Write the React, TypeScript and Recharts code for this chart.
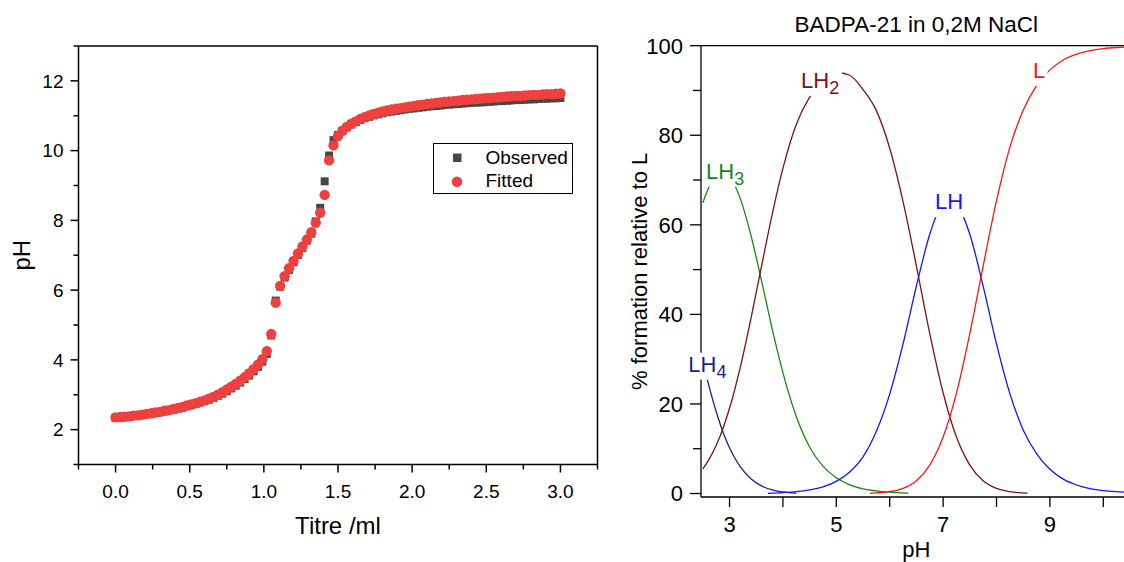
import React from "react";
import {
  Label,
  Line,
  LineChart,
  ReferenceDot,
  ReferenceLine,
  Scatter,
  ScatterChart,
  XAxis,
  YAxis,
} from "recharts";

const FONT = "'Liberation Sans', Arial, Helvetica, sans-serif";

// ---- left panel: titration curve (titre /ml vs pH)
const titre = [
  0, 0.03, 0.06, 0.09, 0.12, 0.15, 0.18, 0.21, 0.24, 0.27, 0.3, 0.33, 0.36, 0.39, 0.42, 0.45, 0.48,
  0.51, 0.54, 0.57, 0.6, 0.63, 0.66, 0.69, 0.72, 0.75, 0.78, 0.81, 0.84, 0.87, 0.9, 0.93, 0.96, 0.99,
  1.02, 1.05, 1.08, 1.11, 1.14, 1.17, 1.2, 1.23, 1.26, 1.29, 1.32, 1.35, 1.38, 1.41, 1.44, 1.47, 1.5,
  1.53, 1.56, 1.59, 1.62, 1.65, 1.68, 1.71, 1.74, 1.77, 1.8, 1.83, 1.86, 1.89, 1.92, 1.95, 1.98, 2.01,
  2.04, 2.07, 2.1, 2.13, 2.16, 2.19, 2.22, 2.25, 2.28, 2.31, 2.34, 2.37, 2.4, 2.43, 2.46, 2.49, 2.52,
  2.55, 2.58, 2.61, 2.64, 2.67, 2.7, 2.73, 2.76, 2.79, 2.82, 2.85, 2.88, 2.91, 2.94, 2.97, 3.0,
];

const phObserved = [
  2.34, 2.35, 2.36, 2.37, 2.39, 2.4, 2.42, 2.44, 2.46, 2.48, 2.5, 2.52, 2.55, 2.57, 2.6, 2.63, 2.67,
  2.7, 2.74, 2.78, 2.82, 2.86, 2.91, 2.97, 3.03, 3.1, 3.18, 3.26, 3.35, 3.45, 3.55, 3.67, 3.8, 3.95,
  4.17, 4.7, 5.7, 6.1, 6.36, 6.58, 6.8, 7.01, 7.21, 7.42, 7.62, 7.97, 8.36, 9.12, 9.86, 10.3, 10.45,
  10.57, 10.67, 10.75, 10.82, 10.88, 10.93, 10.97, 11.01, 11.04, 11.07, 11.1, 11.12, 11.14, 11.16,
  11.18, 11.2, 11.21, 11.23, 11.24, 11.26, 11.27, 11.28, 11.29, 11.31, 11.32, 11.33, 11.34, 11.35,
  11.36, 11.37, 11.38, 11.38, 11.39, 11.4, 11.41, 11.42, 11.42, 11.43, 11.44, 11.45, 11.45, 11.46,
  11.47, 11.47, 11.48, 11.49, 11.49, 11.5, 11.5, 11.51,
];

const phFitted = [
  2.35, 2.36, 2.37, 2.38, 2.4, 2.41, 2.43, 2.45, 2.47, 2.49, 2.51, 2.54, 2.56, 2.59, 2.62, 2.65, 2.69,
  2.72, 2.76, 2.8, 2.84, 2.89, 2.94, 3.0, 3.07, 3.15, 3.23, 3.31, 3.4, 3.5, 3.61, 3.73, 3.86, 4.02,
  4.25, 4.74, 5.64, 6.12, 6.4, 6.63, 6.84, 7.05, 7.25, 7.45, 7.66, 7.93, 8.22, 8.73, 9.72, 10.15,
  10.42, 10.57, 10.68, 10.77, 10.84, 10.91, 10.96, 11.01, 11.05, 11.09, 11.12, 11.15, 11.18, 11.2,
  11.22, 11.24, 11.26, 11.28, 11.3, 11.32, 11.34, 11.35, 11.37, 11.38, 11.4, 11.41, 11.42, 11.43,
  11.45, 11.46, 11.47, 11.48, 11.49, 11.5, 11.51, 11.52, 11.53, 11.54, 11.55, 11.56, 11.57, 11.57,
  11.58, 11.59, 11.6, 11.6, 11.61, 11.62, 11.62, 11.63, 11.64,
];

const titreTicks = [-0.25, 0, 0.25, 0.5, 0.75, 1, 1.25, 1.5, 1.75, 2, 2.25, 2.5, 2.75, 3, 3.25];
const phTicks = [1, 2, 3, 4, 5, 6, 7, 8, 9, 10, 11, 12, 13];

// ---- right panel: species distribution, BADPA-21 in 0,2M NaCl
const lh4Ph = [2.47, 2.6, 2.75, 2.9, 3.05, 3.2, 3.4, 3.6, 3.8, 4.0, 4.25];
const lh4Pct = [31.0, 24.7, 18.3, 13.0, 9.0, 6.0, 3.3, 1.7, 0.8, 0.35, 0.05];

const lh3Ph = [2.5, 2.6, 2.75, 2.9, 3.05, 3.2, 3.4, 3.6, 3.8, 4.0, 4.25, 4.5, 4.75, 5.0, 5.25, 5.5, 5.75, 6.0, 6.35];
const lh3Pct = [64.9, 68.0, 71.0, 71.6, 69.9, 65.9, 57.7, 47.5, 36.7, 27.0, 17.2, 10.4, 6.1, 3.5, 1.95, 1.06, 0.57, 0.29, 0.1];

const lh2Ph = [
  2.5, 2.6, 2.75, 2.9, 3.05, 3.2, 3.4, 3.6, 3.8, 4.0, 4.25, 4.5, 4.75, 4.9, 5.05, 5.25, 5.5, 5.75,
  6.0, 6.25, 6.5, 6.75, 7.0, 7.25, 7.5, 7.75, 8.0, 8.25, 8.58,
];
const lh2Pct = [
  5.5, 7.3, 10.7, 15.3, 21.1, 28.1, 39.0, 50.8, 62.4, 72.6, 82.4, 88.5, 92.1, 93.4, 93.9, 93.4, 90.2,
  85.5, 77.1, 65.2, 50.8, 35.7, 22.5, 12.6, 6.35, 2.86, 1.16, 0.43, 0.08,
];

const lhPh = [
  3.72, 4.0, 4.25, 4.5, 4.75, 5.0, 5.25, 5.5, 5.75, 6.0, 6.25, 6.5, 6.75, 7.0, 7.12, 7.25, 7.5, 7.75,
  8.0, 8.25, 8.5, 8.75, 9.0, 9.25, 9.5, 9.75, 10.0, 10.25, 10.5,
];
const lhPct = [
  0.05, 0.21, 0.42, 0.81, 1.49, 2.7, 4.8, 8.2, 13.9, 22.2, 33.4, 46.3, 57.9, 64.9, 65.7, 64.6, 57.9,
  46.3, 33.4, 22.3, 14.2, 8.9, 5.4, 3.2, 1.9, 1.1, 0.65, 0.4, 0.25,
];

const lPh = [5.63, 5.75, 6.0, 6.25, 6.5, 6.75, 7.0, 7.25, 7.5, 7.75, 8.0, 8.25, 8.5, 8.75, 9.0, 9.25, 9.5, 9.75, 10.0, 10.25, 10.5];
const lPct = [0.05, 0.16, 0.43, 1.16, 2.86, 6.35, 12.6, 22.4, 35.7, 50.8, 65.4, 77.3, 85.6, 91.1, 94.6, 96.8, 98.1, 98.9, 99.35, 99.6, 99.75];

const speciesPhTicks = [3, 4, 5, 6, 7, 8, 9, 10];
const formationTicks = [0, 10, 20, 30, 40, 50, 60, 70, 80, 90, 100];

const observedPoints = titre.map((t, i) => ({ titre: t, pH: phObserved[i] }));
const fittedPoints = titre.map((t, i) => ({ titre: t, pH: phFitted[i] }));
const toPoints = (ph: number[], pct: number[]) => ph.map((p, i) => ({ pH: p, pct: pct[i] }));

// tag = where the curve label sits (left edge / baseline, in data units)
const species = [
  { key: "LH4", main: "LH", sub: "4", color: "#1e1e8c", points: toPoints(lh4Ph, lh4Pct), tag: [2.228, 27.2] },
  { key: "LH3", main: "LH", sub: "3", color: "#138a13", points: toPoints(lh3Ph, lh3Pct), tag: [2.56, 70.3] },
  { key: "LH2", main: "LH", sub: "2", color: "#7d1212", points: toPoints(lh2Ph, lh2Pct), tag: [4.339, 90.6] },
  { key: "LH", main: "LH", sub: "", color: "#1414ff", points: toPoints(lhPh, lhPct), tag: [6.848, 63.5] },
  { key: "L", main: "L", sub: "", color: "#ff1414", points: toPoints(lPh, lPct), tag: [8.683, 92.8] },
];

const TitreTick = ({ x, y, payload }: any) => {
  const v = payload.value as number;
  const major = Number.isInteger(Math.round(v * 4) / 2);
  return (
    <g>
      <line x1={x} x2={x} y1={y} y2={y + (major ? 8 : 5)} stroke="#000" strokeWidth={1.5} />
      {major && (
        <text x={x} y={y + 33} textAnchor="middle" fontSize={19} fontFamily={FONT} fill="#000">
          {v.toFixed(1)}
        </text>
      )}
    </g>
  );
};

const PhTick = ({ x, y, payload }: any) => {
  const v = payload.value as number;
  const major = v % 2 === 0;
  return (
    <g>
      <line x1={x - (major ? 8 : 5)} x2={x} y1={y} y2={y} stroke="#000" strokeWidth={1.5} />
      {major && (
        <text x={x - 15} y={y} dy="0.36em" textAnchor="end" fontSize={19} fontFamily={FONT} fill="#000">
          {v}
        </text>
      )}
    </g>
  );
};

const SpeciesPhTick = ({ x, y, payload }: any) => {
  const v = payload.value as number;
  return (
    <g>
      <line x1={x} x2={x} y1={y} y2={y + 10} stroke="#000" strokeWidth={1.3} />
      {v % 2 === 1 && (
        <text x={x} y={y + 35} textAnchor="middle" fontSize={22} fontFamily={FONT} fill="#000">
          {v}
        </text>
      )}
    </g>
  );
};

const FormationTick = ({ x, y, payload }: any) => {
  const v = payload.value as number;
  const major = v % 20 === 0;
  return (
    <g>
      <line x1={x - (major ? 11 : 8)} x2={x} y1={y} y2={y} stroke="#000" strokeWidth={1.3} />
      {major && (
        <text x={x - 18} y={y} dy="0.36em" textAnchor="end" fontSize={22} fontFamily={FONT} fill="#000">
          {v}
        </text>
      )}
    </g>
  );
};

const rotatedTitle = (text: string, dx: number, size: number) => (props: any) => {
  const vb = props.viewBox;
  const cx = vb.x + dx;
  const cy = vb.y + vb.height / 2;
  return (
    <text x={cx} y={cy} transform={`rotate(-90 ${cx} ${cy})`} textAnchor="middle" fontSize={size} fontFamily={FONT} fill="#000">
      {text}
    </text>
  );
};

const SpeciesTag = ({ cx, cy, main, sub, color }: any) => {
  const w = (main === "L" ? 12.5 : 28.5) + (sub ? 10.5 : 0);
  return (
    <g>
      <rect x={cx - 2} y={cy - 19} width={w + 4} height={27} fill="#fff" />
      <text x={cx} y={cy} fontSize={22} fontFamily={FONT} fill={color}>
        {main}
        {sub ? (
          <tspan fontSize={18} dy={6}>
            {sub}
          </tspan>
        ) : null}
      </text>
    </g>
  );
};

export default function App() {
  return (
    <div
      style={{
        position: "absolute",
        left: 0,
        top: 0,
        width: 1124,
        height: 562,
        overflow: "hidden",
        background: "#fff",
        fontFamily: FONT,
      }}
    >
      <div style={{ position: "absolute", left: 0, top: 0 }}>
        <ScatterChart width={620} height={562} margin={{ top: 46, right: 22.5, bottom: 0, left: 0 }}>
          <XAxis
            dataKey="titre"
            type="number"
            domain={[-0.25, 3.25]}
            ticks={titreTicks}
            interval={0}
            height={97.5}
            tickSize={0}
            tickMargin={0}
            tickLine={false}
            tick={<TitreTick />}
            axisLine={{ stroke: "#000", strokeWidth: 1.5 }}
          >
            <Label value="Titre /ml" position="insideBottom" offset={28} fontSize={24} fill="#000" fontFamily={FONT} />
          </XAxis>
          <YAxis
            dataKey="pH"
            type="number"
            domain={[1, 13]}
            ticks={phTicks}
            interval={0}
            width={78.5}
            tickSize={0}
            tickMargin={0}
            tickLine={false}
            tick={<PhTick />}
            axisLine={{ stroke: "#000", strokeWidth: 1.5 }}
          >
            <Label content={rotatedTitle("pH", 30, 24)} />
          </YAxis>
          <ReferenceLine y={13} stroke="#000" strokeWidth={1.5} />
          <ReferenceLine x={3.25} stroke="#000" strokeWidth={1.5} />
          <Scatter
            name="Observed"
            data={observedPoints}
            isAnimationActive={false}
            shape={(p: any) => <rect x={p.cx - 4} y={p.cy - 4} width={8} height={8} fill="#474747" />}
          />
          <Scatter
            name="Fitted"
            data={fittedPoints}
            isAnimationActive={false}
            shape={(p: any) => <circle cx={p.cx} cy={p.cy} r={5.2} fill="#ef4040" />}
          />
        </ScatterChart>
      </div>

      {/* legend of the titration panel */}
      <svg style={{ position: "absolute", left: 433, top: 143 }} width={141} height={52}>
        <rect x={0.5} y={0.5} width={139} height={50} fill="#fff" stroke="#000" strokeWidth={1} />
        <rect x={20} y={10.5} width={8.5} height={8.5} fill="#474747" />
        <text x={52.5} y={20.5} fontSize={19} fontFamily={FONT} fill="#000">
          Observed
        </text>
        <circle cx={24} cy={38.7} r={5.3} fill="#ef4040" />
        <text x={52.5} y={44} fontSize={19} fontFamily={FONT} fill="#000">
          Fitted
        </text>
      </svg>

      <div style={{ position: "absolute", left: 620, top: 0 }}>
        <LineChart width={540} height={562} margin={{ top: 45.7, right: 28.4, bottom: 0, left: 0 }}>
          <XAxis
            dataKey="pH"
            type="number"
            domain={[2.466, 10.53]}
            allowDataOverflow
            ticks={speciesPhTicks}
            interval={0}
            height={65}
            tickSize={0}
            tickMargin={0}
            tickLine={false}
            tick={<SpeciesPhTick />}
            axisLine={{ stroke: "#000", strokeWidth: 1.3 }}
          >
            <Label value="pH" position="insideBottom" offset={5} fontSize={22} fill="#000" fontFamily={FONT} />
          </XAxis>
          <YAxis
            type="number"
            domain={[-0.78, 100]}
            allowDataOverflow
            ticks={formationTicks}
            interval={0}
            width={81}
            tickSize={0}
            tickMargin={0}
            tickLine={false}
            tick={<FormationTick />}
            axisLine={{ stroke: "#000", strokeWidth: 1.3 }}
          >
            <Label content={rotatedTitle("% formation relative to L", 27, 22)} />
          </YAxis>
          <ReferenceLine
            y={100}
            stroke="#000"
            strokeWidth={1.3}
            label={{
              value: "BADPA-21 in 0,2M NaCl",
              position: "top",
              offset: 14,
              fontSize: 22.5,
              fill: "#000",
              fontFamily: FONT,
            }}
          />
          {species.map((s) => (
            <Line
              key={s.key}
              data={s.points}
              dataKey="pct"
              type="monotone"
              stroke={s.color}
              strokeWidth={1.3}
              dot={false}
              activeDot={false}
              isAnimationActive={false}
            />
          ))}
          {species.map((s) => (
            <ReferenceDot
              key={"tag-" + s.key}
              x={s.tag[0]}
              y={s.tag[1]}
              ifOverflow="visible"
              zIndex={2500}
              shape={(p: any) => <SpeciesTag cx={p.cx} cy={p.cy} main={s.main} sub={s.sub} color={s.color} />}
            />
          ))}
        </LineChart>
      </div>
    </div>
  );
}
